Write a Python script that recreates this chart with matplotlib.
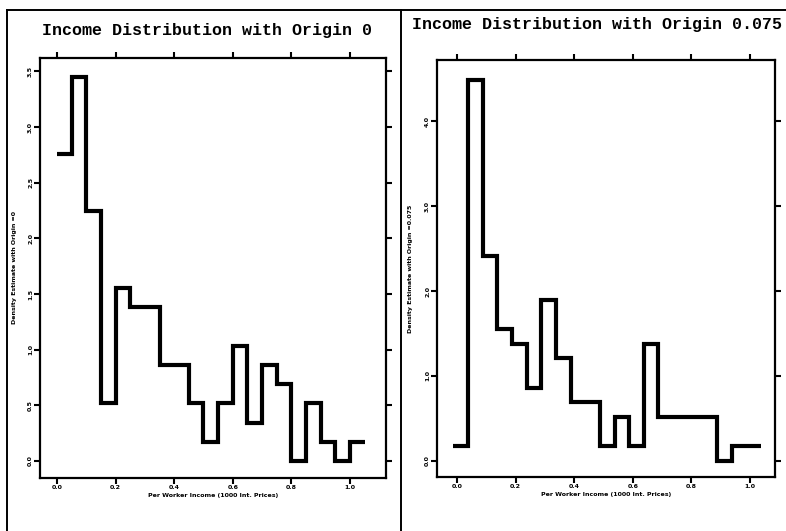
import numpy as np
import matplotlib
matplotlib.use("Agg")
import matplotlib.pyplot as plt
from matplotlib.lines import Line2D

# Histogram counts of per-worker income, bin width 0.05
n_obs = 116
bin_width = 0.05
counts_origin0 = [16, 20, 13, 3, 9, 8, 8, 5, 5, 3, 1, 3, 6, 2, 5, 4, 0, 3, 1, 0, 1]
counts_origin075 = [1, 26, 14, 9, 8, 5, 11, 7, 4, 4, 1, 3, 1, 8, 3, 3, 3, 3, 0, 1, 1]
start_origin0 = 0.0
start_origin075 = -0.0125

x_ticks = [0.0, 0.2, 0.4, 0.6, 0.8, 1.0]
y_ticks_left = [0.0, 0.5, 1.0, 1.5, 2.0, 2.5, 3.0, 3.5]
y_ticks_right = [0, 1, 2, 3, 4]

titles = ["Income Distribution with Origin 0", "Income Distribution with Origin 0.075"]
ylabels = ["Density Estimate with Origin =0", "Density Estimate with Origin =0.075"]
xlabel = "Per Worker Income (1000 Int. Prices)"

W, H = 786, 531
fig = plt.figure(figsize=(W / 100, H / 100), dpi=100)


def px_axes(x0, y0, x1, y1):
    return fig.add_axes([x0 / W, 1 - y1 / H, (x1 - x0) / W, (y1 - y0) / H])


def draw_panel(ax, counts, start, yticks, ylim, xlim, ytickfmt):
    counts = np.asarray(counts, dtype=float)
    dens = counts / (n_obs * bin_width)
    edges = start + bin_width * np.arange(len(counts) + 1)
    ax.stairs(dens, edges, baseline=None, color="black", linewidth=3.0,
              joinstyle="miter")
    ax.set_xlim(*xlim)
    ax.set_ylim(*ylim)
    ax.set_xticks(x_ticks)
    ax.set_xticklabels([f"{t:.1f}" for t in x_ticks], fontsize=4.5,
                       fontweight="heavy")
    ax.set_yticks(yticks)
    ax.set_yticklabels([ytickfmt(t) for t in yticks], fontsize=4.5,
                       fontweight="heavy", rotation=90, va="center")
    ax.tick_params(axis="both", direction="out", length=4, width=1.5,
                   pad=1, top=True, right=True)
    ax.tick_params(axis="x", labeltop=False)
    ax.tick_params(axis="y", labelright=False)
    for sp in ax.spines.values():
        sp.set_linewidth(1.6)
    ax.set_facecolor("white")


# Left panel
ax1 = px_axes(40, 58, 386, 478)
draw_panel(ax1, counts_origin0, start_origin0, y_ticks_left,
           (-0.153, 3.62), (-0.058, 1.123), lambda t: f"{t:.1f}")
ax1.set_xlabel(xlabel, fontsize=4.5, fontweight="heavy", labelpad=2)
ax1.set_ylabel(ylabels[0], fontsize=4.5, fontweight="heavy", labelpad=8)

# Right panel
ax2 = px_axes(437, 60, 775, 477)
draw_panel(ax2, counts_origin075, start_origin075, y_ticks_right,
           (-0.19, 4.72), (-0.068, 1.085), lambda t: f"{t:.1f}")
ax2.set_xlabel(xlabel, fontsize=4.5, fontweight="heavy", labelpad=2)
ax2.set_ylabel(ylabels[1], fontsize=4.5, fontweight="heavy", labelpad=9)

# Titles in a typewriter face
fig.text(207 / W, 1 - 30 / H, titles[0], ha="center", va="center",
         fontsize=12, fontweight="bold", family="Liberation Mono")
fig.text(597 / W, 1 - 25 / H, titles[1], ha="center", va="center",
         fontsize=12, fontweight="bold", family="Liberation Mono")

# Frame lines around the two panels
frame = dict(color="black", linewidth=1.4, transform=fig.transFigure)
fig.add_artist(Line2D([7 / W, 1.0], [1 - 10 / H, 1 - 10 / H], **frame))
fig.add_artist(Line2D([7 / W, 7 / W], [0, 1 - 10 / H], **frame))
fig.add_artist(Line2D([401 / W, 401 / W], [0, 1 - 10 / H], **frame))

fig.savefig("out.png", dpi=100, facecolor="white")
